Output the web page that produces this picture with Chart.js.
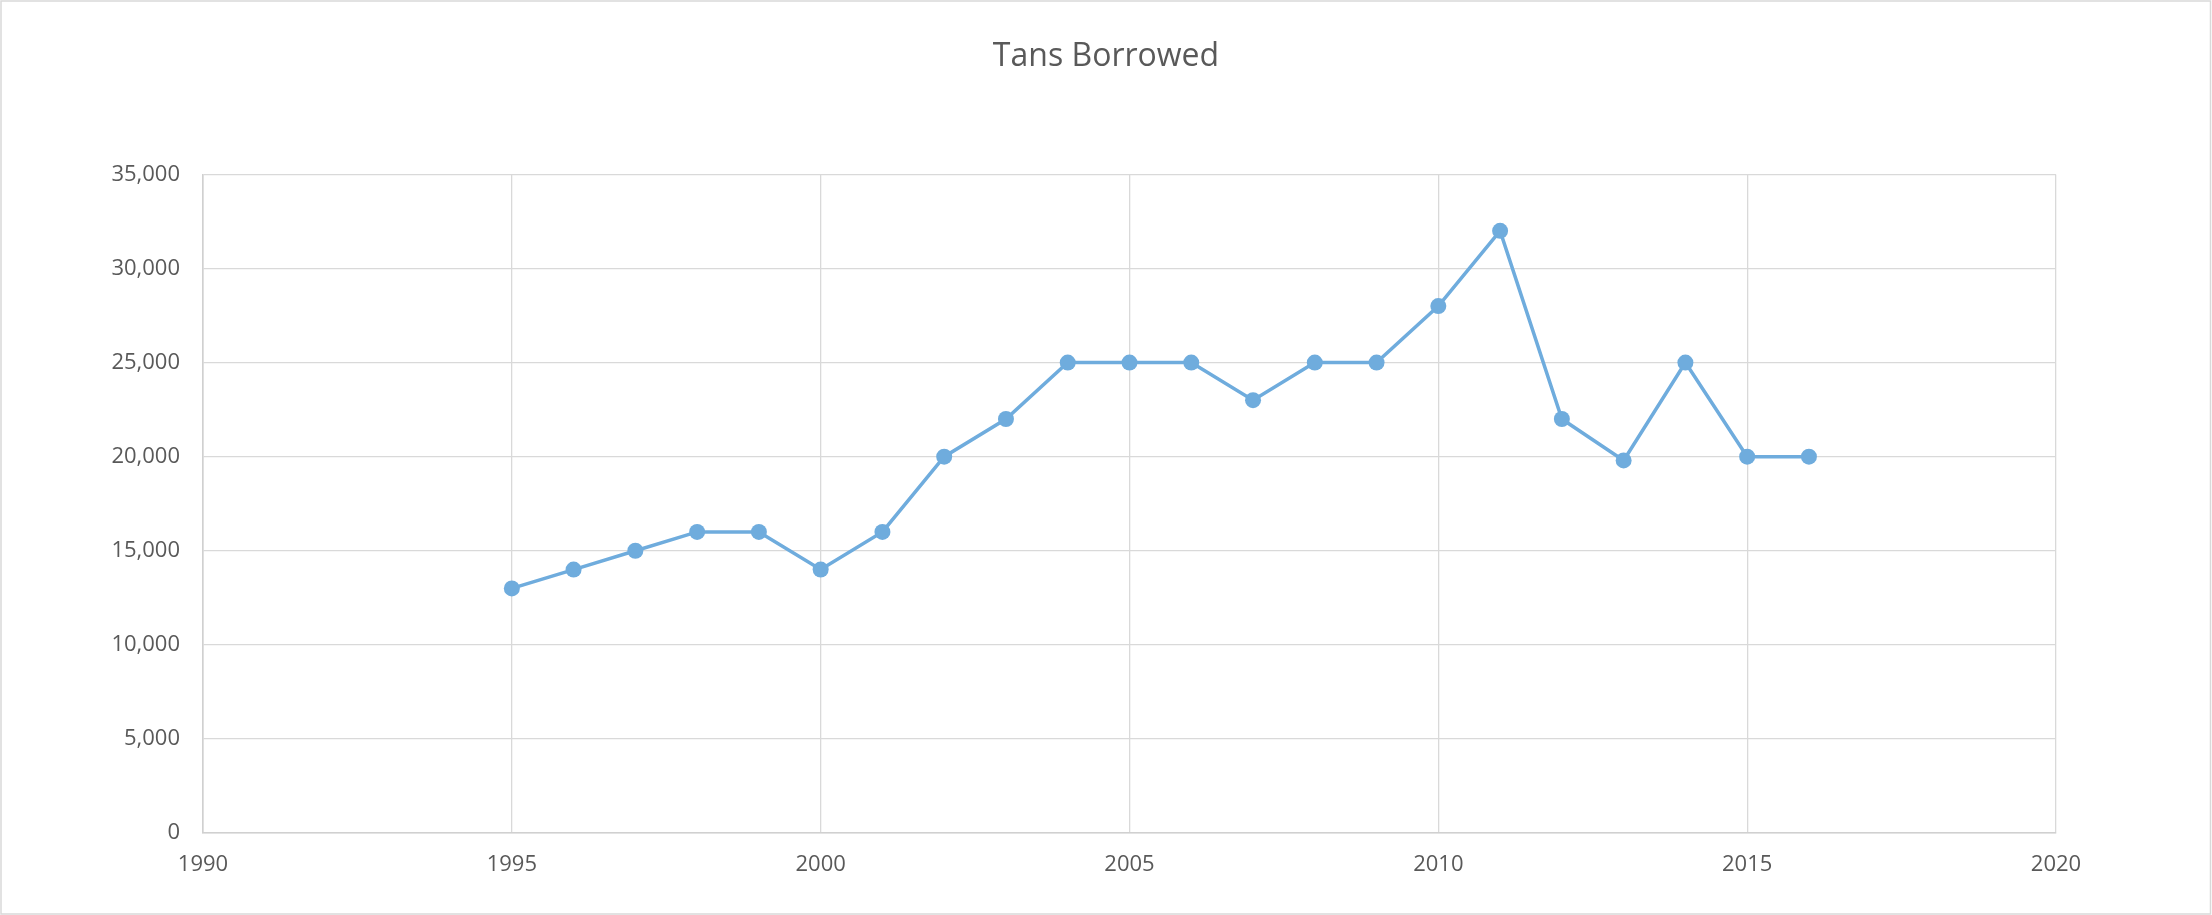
<!DOCTYPE html>
<html>
<head>
<meta charset="utf-8">
<script src="https://cdn.jsdelivr.net/npm/chart.js@4.4.1/dist/chart.umd.min.js"></script>
<style>
  html, body { margin: 0; padding: 0; background: #ffffff; }
  #wrap { width: 2212px; height: 915px; position: relative; }
</style>
</head>
<body>
<div id="wrap"><canvas id="c" width="2212" height="915"></canvas></div>
<script>
const chartTitle = "Tans Borrowed";
const years = [1995, 1996, 1997, 1998, 1999, 2000, 2001, 2002, 2003, 2004, 2005, 2006, 2007, 2008, 2009, 2010, 2011, 2012, 2013, 2014, 2015, 2016];
const loans = [13000, 14000, 15000, 16000, 16000, 14000, 16000, 20000, 22000, 25000, 25000, 25000, 23000, 25000, 25000, 28000, 32000, 22000, 19800, 25000, 20000, 20000];
const xMin = 1990, xMax = 2020, xStep = 5;
const yMin = 0, yMax = 35000, yStep = 5000;

const points = years.map((yr, i) => ({ x: yr, y: loans[i] }));

const frame = {
  id: 'frame',
  beforeDraw(chart) {
    const ctx = chart.ctx;
    ctx.save();
    ctx.fillStyle = '#ffffff';
    ctx.fillRect(0, 0, chart.width, chart.height);
    ctx.strokeStyle = '#D9D9D9';
    ctx.lineWidth = 1.5;
    ctx.strokeRect(1, 1, chart.width - 2.5, chart.height - 2);
    ctx.restore();
  }
};

new Chart(document.getElementById('c'), {
  type: 'line',
  data: {
    datasets: [{
      label: chartTitle,
      data: points,
      borderColor: '#6FACDD',
      backgroundColor: '#6FACDD',
      borderWidth: 3.5,
      pointRadius: 8,
      pointBorderWidth: 0,
      pointBackgroundColor: '#6FACDD',
      tension: 0,
      fill: false
    }]
  },
  options: {
    responsive: false,
    animation: false,
    devicePixelRatio: 1,
    layout: { padding: { left: 0, right: 0, top: 0, bottom: 0 } },
    plugins: {
      legend: { display: false },
      tooltip: { enabled: false },
      title: {
        display: true,
        text: chartTitle,
        color: '#595959',
        font: { family: 'Open Sans', size: 32, weight: 'normal' },
        padding: { top: 38, bottom: 98 }
      }
    },
    scales: {
      x: {
        type: 'linear',
        min: xMin, max: xMax,
        afterFit(s) { s.height = 82; },
        ticks: {
          stepSize: xStep,
          color: '#595959',
          font: { family: 'Open Sans', size: 22 },
          padding: 19,
          callback: v => String(v),
          maxRotation: 0
        },
        grid: { color: '#D9D9D9', lineWidth: 1.3, drawTicks: false },
        border: { color: '#D0D0D0', width: 1.6 }
      },
      y: {
        min: yMin, max: yMax,
        afterFit(s) { s.width = 203; },
        ticks: {
          stepSize: yStep,
          color: '#595959',
          font: { family: 'Open Sans', size: 22 },
          padding: 23,
          callback: v => v.toLocaleString('en-US')
        },
        grid: { color: '#D9D9D9', lineWidth: 1.3, drawTicks: false },
        border: { color: '#D0D0D0', width: 1.6 }
      },
      spacer: {
        type: 'linear',
        position: 'right',
        display: true,
        afterFit(s) { s.width = 156; },
        ticks: { display: false },
        grid: { display: false, drawTicks: false },
        border: { display: false }
      }
    }
  },
  plugins: [frame]
});
</script>
</body>
</html>
